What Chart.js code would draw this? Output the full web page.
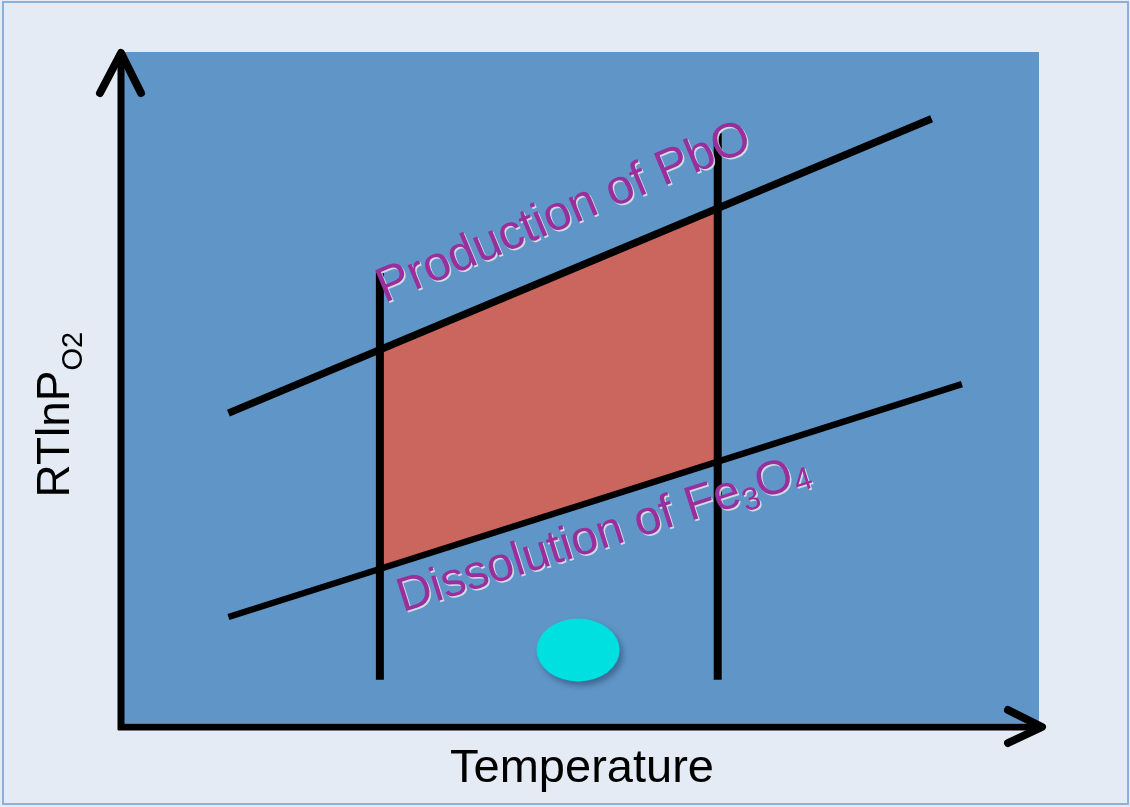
<!DOCTYPE html>
<html>
<head>
<meta charset="utf-8">
<title>RTlnPO2 vs Temperature</title>
<script src="https://cdn.jsdelivr.net/npm/chart.js@4.4.1/dist/chart.umd.min.js"></script>
<style>
  body { margin: 0; background: #e4ebf5; }
  canvas { display: block; }
</style>
</head>
<body>
<canvas id="diagram" width="1130" height="807"></canvas>
<script>
// schematic, arbitrary units on both axes (0..10)
const axisRange = [0, 10];

// Production of PbO line
const pbT = [1.17, 8.83];
const pbG = [4.65, 9.01];
// Dissolution of Fe3O4 line
const feT = [1.17, 9.16];
const feG = [1.63, 5.08];
// temperature limits (vertical lines)
const limitT = [2.82, 6.50];
const limitLow = [0.70, 0.70];
const limitHigh = [6.73, 8.80];
// shaded window corners at the two temperature limits
const windowTop = [5.59, 7.69];
const windowBottom = [2.34, 3.94];
// cyan marker
const markerT = [4.98];
const markerG = [1.14];

// text
const xTitle = "Temperature";
const yTitle = ["RTlnP", "O2"];
const pbLabel = ["Production of PbO"];
const feLabel = ["Dissolution of Fe", "3", "O", "4"];
const pbLabelAt = [2.87, 6.28];
const feLabelAt = [3.07, 1.70];

function pts(xs, ys) {
    return xs.map(function(x, i) { return { x: x, y: ys[i] }; });
}

// ellipse marker with drop shadow, used as the point style
function makeEllipse() {
    var c = document.createElement("canvas");
    c.width = 110;
    c.height = 90;
    var g = c.getContext("2d");
    g.shadowColor = "rgba(20,40,80,0.45)";
    g.shadowBlur = 6;
    g.shadowOffsetX = 3;
    g.shadowOffsetY = 4;
    g.fillStyle = "#00e0e0";
    g.beginPath();
    g.ellipse(55, 45, 41.5, 31.5, 0, 0, Math.PI * 2);
    g.fill();
    return c;
}

const purple = "#992e9c";
const fontName = '"Liberation Sans", Arial, sans-serif';

function lineAngle(chart, xs, ys) {
    var sx = chart.scales.x, sy = chart.scales.y;
    var dx = sx.getPixelForValue(xs[1]) - sx.getPixelForValue(xs[0]);
    var dy = sy.getPixelForValue(ys[1]) - sy.getPixelForValue(ys[0]);
    return Math.atan2(dy, dx);
}

// draws text pieces along a baseline; pieces at odd index are subscripts
function drawPieces(ctx, pieces, big, small, drops) {
    var pos = 0;
    pieces.forEach(function(p, i) {
        var sub = i % 2 === 1;
        ctx.font = (sub ? small : big) + "px " + fontName;
        ctx.fillText(p, pos, sub ? drops[(i - 1) / 2] : 0);
        pos += ctx.measureText(p).width;
    });
}

const decor = {
    id: "decor",
    beforeDraw: function(chart) {
        var ctx = chart.ctx, a = chart.chartArea;
        ctx.save();
        ctx.fillStyle = "#e4ebf5";
        ctx.fillRect(0, 0, chart.width, chart.height);
        ctx.strokeStyle = "#8cb0dc";
        ctx.lineWidth = 2;
        ctx.strokeRect(3, 2, chart.width - 5, chart.height - 5);
        // plot area
        ctx.fillStyle = "#6096c7";
        ctx.fillRect(a.left - 1, a.top, a.right - a.left + 1, a.bottom - a.top - 4);
        ctx.restore();
    },
    afterDatasetsDraw: function(chart) {
        var ctx = chart.ctx, a = chart.chartArea;
        var sx = chart.scales.x, sy = chart.scales.y;
        ctx.save();
        // axes with arrow heads
        ctx.strokeStyle = "#000";
        ctx.lineWidth = 7;
        ctx.lineCap = "butt";
        ctx.beginPath();
        ctx.moveTo(a.left, a.bottom + 3);
        ctx.lineTo(a.left, a.top + 2);
        ctx.moveTo(a.left - 3, a.bottom);
        ctx.lineTo(a.right + 2, a.bottom);
        ctx.stroke();
        ctx.lineWidth = 8;
        ctx.lineCap = "round";
        ctx.lineJoin = "round";
        ctx.beginPath();
        ctx.moveTo(a.left - 21, a.top + 41);
        ctx.lineTo(a.left, a.top + 1);
        ctx.lineTo(a.left + 20, a.top + 41);
        ctx.moveTo(a.right - 31, a.bottom - 17);
        ctx.lineTo(a.right + 3, a.bottom);
        ctx.lineTo(a.right - 31, a.bottom + 16);
        ctx.stroke();

        // line labels
        ctx.fillStyle = purple;
        ctx.shadowColor = "rgba(230,230,230,0.85)";
        ctx.shadowOffsetX = 1.5;
        ctx.shadowOffsetY = 1.5;
        ctx.shadowBlur = 0;
        ctx.textBaseline = "alphabetic";
        ctx.textAlign = "left";

        ctx.save();
        ctx.translate(sx.getPixelForValue(pbLabelAt[0]), sy.getPixelForValue(pbLabelAt[1]));
        ctx.rotate(lineAngle(chart, pbT, pbG));
        drawPieces(ctx, pbLabel, 49, 32, []);
        ctx.restore();

        ctx.save();
        ctx.translate(sx.getPixelForValue(feLabelAt[0]), sy.getPixelForValue(feLabelAt[1]));
        ctx.rotate(lineAngle(chart, feT, feG));
        drawPieces(ctx, feLabel, 48, 32, [8, 5]);
        ctx.restore();

        // axis titles
        ctx.shadowColor = "transparent";
        ctx.fillStyle = "#000";
        ctx.font = "47px " + fontName;
        ctx.textAlign = "center";
        ctx.fillText(xTitle, (a.left + a.right) / 2 + 2, a.bottom + 55);

        ctx.textAlign = "left";
        ctx.save();
        ctx.translate(a.left - 52, (a.top + a.bottom) / 2 + 108);
        ctx.rotate(-Math.PI / 2);
        drawPieces(ctx, yTitle, 46, 29, [13]);
        ctx.restore();
        ctx.restore();
    }
};

const blackLine = {
    showLine: true,
    pointRadius: 0,
    borderColor: "#000",
    borderWidth: 7,
    borderCapStyle: "butt",
    fill: false,
    order: 1
};

new Chart(document.getElementById("diagram"), {
    type: "scatter",
    data: {
        datasets: [
            Object.assign({}, blackLine, { label: "Production of PbO", data: pts(pbT, pbG), borderWidth: 7.5 }),
            Object.assign({}, blackLine, { label: "Dissolution of Fe3O4", data: pts(feT, feG), borderWidth: 6.5 }),
            Object.assign({}, blackLine, { label: "T min", data: pts([limitT[0], limitT[0]], [limitLow[0], limitHigh[0]]), borderWidth: 8 }),
            Object.assign({}, blackLine, { label: "T max", data: pts([limitT[1], limitT[1]], [limitLow[1], limitHigh[1]]), borderWidth: 8 }),
            {
                label: "window top",
                data: pts(limitT, windowTop),
                showLine: true,
                pointRadius: 0,
                borderWidth: 0,
                backgroundColor: "#cb665e",
                fill: "+1",
                order: 5
            },
            {
                label: "window bottom",
                data: pts(limitT, windowBottom),
                showLine: true,
                pointRadius: 0,
                borderWidth: 0,
                fill: false,
                order: 6
            },
            {
                label: "marker",
                data: pts(markerT, markerG),
                pointStyle: makeEllipse(),
                pointRadius: 40,
                order: 2
            }
        ]
    },
    options: {
        responsive: false,
        animation: false,
        layout: { padding: { left: 121, top: 52, right: 91, bottom: 80 } },
        plugins: {
            legend: { display: false },
            tooltip: { enabled: false }
        },
        scales: {
            x: { type: "linear", min: axisRange[0], max: axisRange[1], display: false },
            y: { type: "linear", min: axisRange[0], max: axisRange[1], display: false }
        }
    },
    plugins: [decor]
});
</script>
</body>
</html>
